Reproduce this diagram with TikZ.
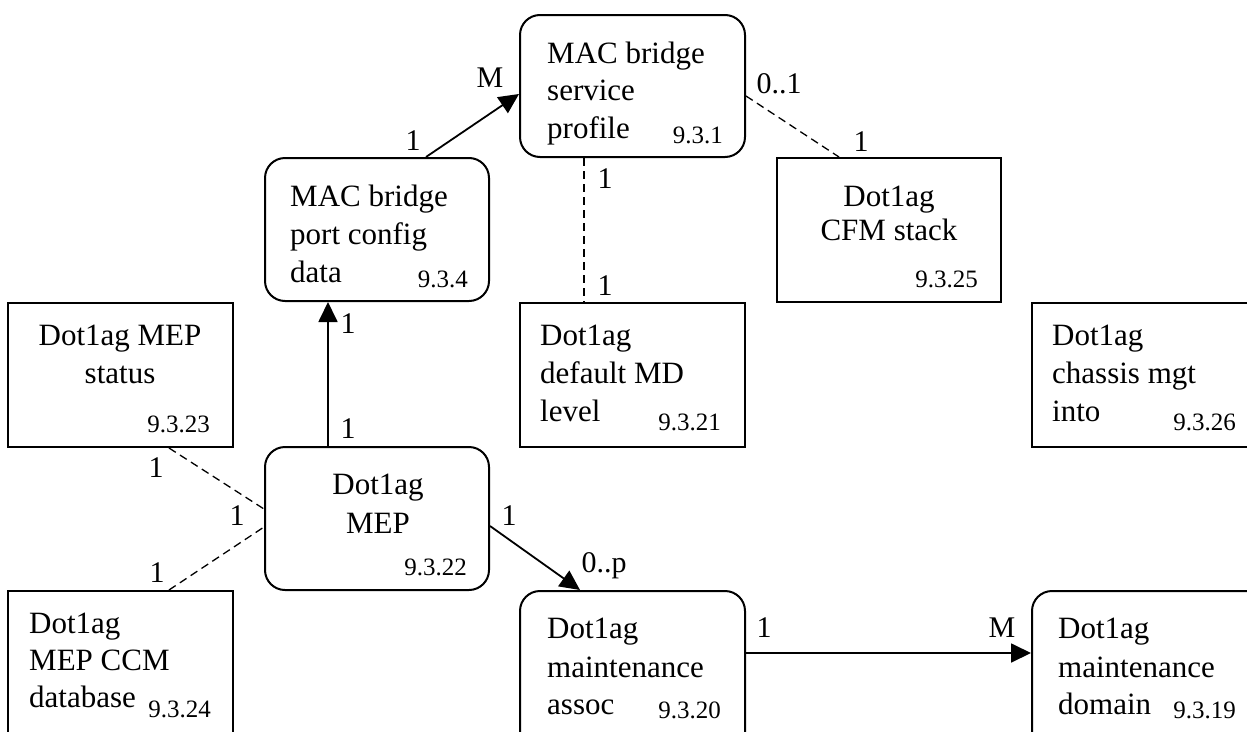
\documentclass[tikz,border=0pt]{standalone}
\usepackage{fontspec}
\setmainfont{Liberation Serif}
\usetikzlibrary{arrows.meta}
\begin{document}
\begin{tikzpicture}[x=1pt,y=-1pt,
  sbox/.style={draw, line width=2pt, inner sep=0pt},
  rbox/.style={sbox, rounded corners=20pt},
  txt/.style={inner sep=0pt, font=\fontsize{31}{38}\selectfont},
  num/.style={inner sep=0pt, anchor=base east, font=\fontsize{25}{30}\selectfont},
  lbl/.style={inner sep=0pt, anchor=base, font=\fontsize{30}{36}\selectfont},
  arr/.style={line width=1.8pt, -{Triangle[length=20pt,width=19pt]}},
  dsh/.style={line width=1.3pt, dash pattern=on 8pt off 5pt}]
\clip (0,0) rectangle (1247,731);
\fill[white] (0,0) rectangle (1247,731);

% boxes
\node[rbox, minimum width=225pt, minimum height=142pt] (sp) at (632.5,86) {};
\node[rbox, minimum width=224pt, minimum height=143pt] (pc) at (377,229.5) {};
\node[sbox, minimum width=224pt, minimum height=144pt] (cfm) at (889,230) {};
\node[sbox, minimum width=225pt, minimum height=144pt] (md) at (632.5,375) {};
\node[sbox, minimum width=248pt, minimum height=144pt] (ch) at (1156,375) {};
\node[sbox, minimum width=225pt, minimum height=144pt] (st) at (120.5,375) {};
\node[rbox, minimum width=224pt, minimum height=143pt] (mep) at (377,518.5) {};
\node[sbox, minimum width=225pt, minimum height=190pt] (ccm) at (120.5,686) {};
\node[rbox, minimum width=225pt, minimum height=190pt] (ma) at (632.5,686) {};
\node[rbox, minimum width=248pt, minimum height=190pt] (dom) at (1156,686) {};

% texts
\node[txt, anchor=base west] (sp1) at (547,63) {MAC bridge};
\node[txt, anchor=base west] (sp2) at (547,100) {service};
\node[txt, anchor=base west] (sp3) at (547,138) {profile};
\node[num] (spn) at (723,143) {9.3.1};

\node[txt, anchor=base west] (pc1) at (290,206) {MAC bridge};
\node[txt, anchor=base west] (pc2) at (290,244) {port config};
\node[txt, anchor=base west] (pc3) at (290,282) {data};
\node[num] (pcn) at (468,287) {9.3.4};

\node[txt, anchor=base] (cf1) at (889,206) {Dot1ag};
\node[txt, anchor=base] (cf2) at (889,240) {CFM stack};
\node[num] (cfn) at (978,287) {9.3.25};

\node[txt, anchor=base west] (md1) at (540,345) {Dot1ag};
\node[txt, anchor=base west] (md2) at (540,383) {default MD};
\node[txt, anchor=base west] (md3) at (540,421) {level};
\node[num] (mdn) at (721,430) {9.3.21};

\node[txt, anchor=base west] (ch1) at (1052,345) {Dot1ag};
\node[txt, anchor=base west] (ch2) at (1052,383) {chassis mgt};
\node[txt, anchor=base west] (ch3) at (1052,421) {into};
\node[num] (chn) at (1236,430) {9.3.26};

\node[txt, anchor=base] (st1) at (120,345) {Dot1ag MEP};
\node[txt, anchor=base] (st2) at (120,383) {status};
\node[num] (stn) at (210,432) {9.3.23};

\node[txt, anchor=base] (me1) at (378,494) {Dot1ag};
\node[txt, anchor=base] (me2) at (378,533) {MEP};
\node[num] (men) at (467,575) {9.3.22};

\node[txt, anchor=base west] (cc1) at (29,633) {Dot1ag};
\node[txt, anchor=base west] (cc2) at (29,670) {MEP CCM};
\node[txt, anchor=base west] (cc3) at (29,707) {database};
\node[num] (ccn) at (211,717) {9.3.24};

\node[txt, anchor=base west] (ma1) at (547,638) {Dot1ag};
\node[txt, anchor=base west] (ma2) at (547,677) {maintenance};
\node[txt, anchor=base west] (ma3) at (547,714) {assoc};
\node[num] (man) at (721,718) {9.3.20};

\node[txt, anchor=base west] (do1) at (1058,638) {Dot1ag};
\node[txt, anchor=base west] (do2) at (1058,677) {maintenance};
\node[txt, anchor=base west] (do3) at (1058,714) {domain};
\node[num] (don) at (1236,718) {9.3.19};

% connectors
\draw[arr] ([xshift=162pt]pc.north west) -- ([yshift=-80pt]sp.north west);
\draw[dsh] ([xshift=65pt]sp.south west) -- ([xshift=65pt]md.north west);
\draw[dsh] ([yshift=-82pt]sp.north east) -- ([xshift=63pt]cfm.north west);
\draw[arr] ([xshift=64pt]mep.north west) -- ([xshift=64pt]pc.south west);
\draw[dsh] ([xshift=162pt]st.south west) -- ([yshift=-63pt]mep.north west);
\draw[dsh] ([xshift=162pt]ccm.north west) -- ([yshift=-81pt]mep.north west);
\draw[arr] ([yshift=-80pt]mep.north east) -- ([xshift=61pt]ma.north west);
\draw[arr] ([yshift=-63pt]ma.north east) -- ([yshift=-63pt]dom.north west);

% multiplicity labels
\node[lbl] (l1) at (413,150) {1};
\node[lbl] (l2) at (490,87) {M};
\node[lbl] (l3) at (605,188) {1};
\node[lbl] (l4) at (605,295) {1};
\node[lbl] (l5) at (779,93) {0..1};
\node[lbl] (l6) at (861,151) {1};
\node[lbl] (l7) at (348,333) {1};
\node[lbl] (l8) at (348,438) {1};
\node[lbl] (l9) at (156,477) {1};
\node[lbl] (l10) at (237,525) {1};
\node[lbl] (l11) at (157,582) {1};
\node[lbl] (l12) at (509,525) {1};
\node[lbl] (l13) at (604,572) {0..p};
\node[lbl] (l14) at (764,637) {1};
\node[lbl] (l15) at (1002,637) {M};
\end{tikzpicture}
\end{document}
